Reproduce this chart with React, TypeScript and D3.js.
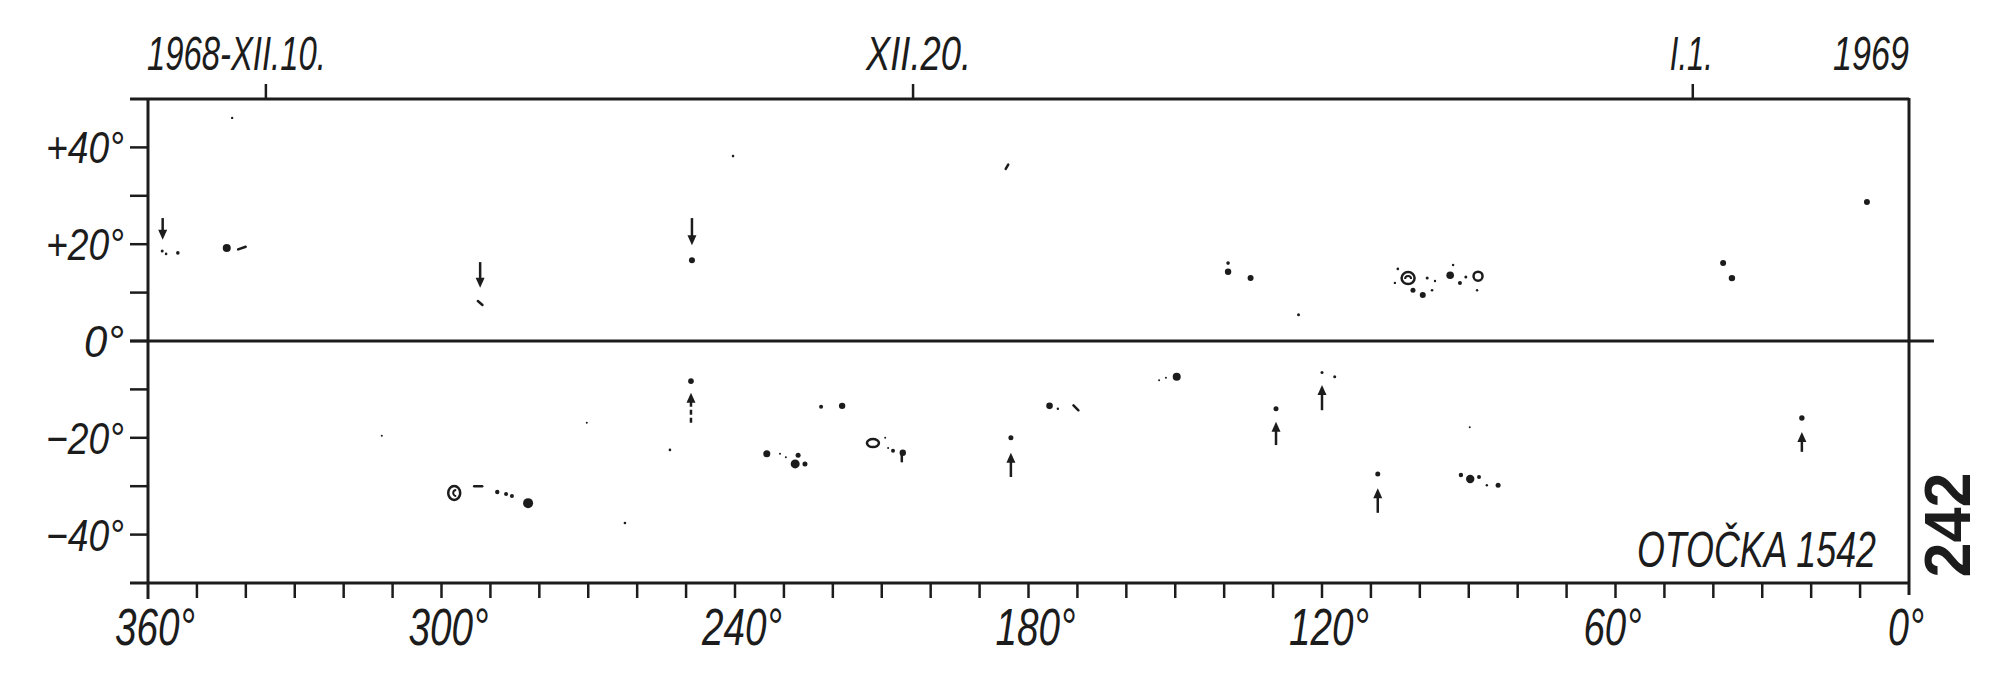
import React from "react";
import * as d3 from "d3";

// ---- data ----
const lonTicks = d3.range(0, 361, 10);
const lonLabels = [360, 300, 240, 180, 120, 60, 0];
const decTicks = [-40, -30, -20, -10, 0, 10, 20, 30, 40];
const decLabels = [
  { v: 40, t: "+40°" },
  { v: 20, t: "+20°" },
  { v: 0, t: "0°" },
  { v: -20, t: "−20°" },
  { v: -40, t: "−40°" },
];
const dateLabels = [
  { lon: 335.9, t: "1968-XII.10.", off: -119, len: 179 },
  { lon: 203.6, t: "XII.20.", off: -47, len: 105 },
  { lon: 44.2, t: "I.1.", off: -23, len: 43 },
];
// filled spots: [longitude, declination, radius px]
const spots: [number, number, number][] = [
  [357.1, 18.6, 1.5], [356.3, 18.0, 1.3], [353.9, 18.2, 1.8],
  [343.9, 19.2, 4], [342.8, 46.1, 1.2],
  [248.8, 16.7, 3], [240.4, 38.2, 1.3],
  [139.2, 16.1, 1.8], [139.2, 14.3, 3.2], [134.6, 13.0, 3], [124.8, 5.4, 1.5],
  [104.5, 14.9, 1.3], [105.1, 12.0, 1.2], [98.5, 13.0, 1.5], [96.9, 12.4, 1.2],
  [101.4, 10.5, 2.5], [99.4, 9.5, 3], [97.5, 10.5, 1.3], [93.8, 13.6, 3.8],
  [93.2, 15.7, 1.2], [91.8, 12.0, 2], [90.6, 13.2, 1.5], [88.3, 10.5, 1.2],
  [38.0, 16.1, 3], [36.2, 13.0, 3.2], [8.6, 28.7, 3],
  [249.0, -8.3, 2.8],
  [288.6, -31.2, 2.2], [286.8, -31.6, 2], [285.6, -32.0, 2], [282.3, -33.5, 5],
  [312.2, -19.6, 1], [270.3, -16.9, 1], [253.3, -22.5, 1.3], [262.5, -37.6, 1.3],
  [233.5, -23.3, 3.5], [230.8, -23.3, 1], [229.6, -24.0, 1], [227.1, -23.6, 2.5],
  [227.7, -25.4, 4.5], [225.7, -25.4, 2.5],
  [222.4, -13.6, 2], [218.1, -13.4, 3.2],
  [209.3, -20.0, 1], [208.7, -22.1, 1], [207.7, -22.7, 2], [205.7, -23.1, 3.2],
  [183.6, -20.0, 2.5],
  [175.7, -13.4, 3.3], [174.0, -14.0, 1.2],
  [153.3, -8.1, 1], [151.9, -7.6, 1], [149.7, -7.4, 4],
  [129.4, -14.0, 2.5], [120.0, -6.5, 1.5], [117.4, -7.4, 1.5],
  [108.6, -27.5, 2.5], [89.8, -17.8, 1],
  [91.6, -27.7, 2.2], [89.7, -28.5, 4.2], [87.9, -28.1, 2], [86.3, -29.8, 1.2], [84.0, -29.8, 2.5],
  [21.9, -15.9, 2.7],
];
// open rings: [lon, dec, rx, ry]
const rings: [number, number, number, number][] = [
  [102.4, 13.0, 6.5, 6],
  [88.1, 13.4, 4.5, 4.5],
  [297.4, -31.4, 6, 7],
  [211.8, -21.1, 6, 4],
];
// short streaks: [lon, dec, angle deg, length px]
const streaks: [number, number, number, number][] = [
  [340.8, 19.2, -20, 8],
  [292.1, 7.85, 40, 6],
  [184.4, 36.0, -60, 5],
  [292.5, -30.0, 0, 8],
  [170.3, -13.8, 45, 7],
  [205.9, -24.2, 90, 6],
];
// arrows: [lon, tip dec, tail dec, dashed]
const downArrows: [number, number, number, boolean][] = [
  [357.0, 20.9, 25.4, false],
  [292.1, 11.0, 16.3, false],
  [248.8, 19.8, 25.4, false],
];
const upArrows: [number, number, number, boolean][] = [
  [249.0, -10.7, -16.9, true],
  [183.6, -23.1, -28.1, false],
  [129.4, -16.7, -21.5, false],
  [120.0, -9.1, -14.3, false],
  [108.6, -30.4, -35.5, false],
  [21.9, -18.8, -22.9, false],
];

const INK = "#1c1c1c";
const FONT = "'Liberation Sans', Arial, sans-serif";

export default function App() {
  const x = d3.scaleLinear().domain([360, 0]).range([148, 1909]);
  const y = d3.scaleLinear().domain([-50, 50]).range([583, 99]);
  const x0 = x(360);
  const x1 = x(0);

  const arrow = (a: [number, number, number, boolean], i: number, dir: number) => {
    const [lon, tip, tail, dashed] = a;
    const cx = x(lon);
    const ty = y(tip);
    const ly = y(tail);
    const head = 10 * dir; // dir=1 means pointing down
    return (
      <g key={i}>
        <line x1={cx} x2={cx} y1={ly} y2={ty - head * 0.5} stroke={INK} strokeWidth={2.5}
          strokeDasharray={dashed ? "5,3" : undefined} />
        <path d={`M${cx - 4.5},${ty - head} L${cx + 4.5},${ty - head} L${cx},${ty} Z`} fill={INK} />
      </g>
    );
  };

  return (
    <svg width={2000} height={687} style={{ position: "absolute", left: 0, top: 0, background: "#fff" }}>
      <rect width={2000} height={687} fill="#fff" />
      {/* frame */}
      <g stroke={INK} strokeWidth={3} fill="none">
        <line x1={130} x2={x1} y1={y(50)} y2={y(50)} />
        <line x1={130} x2={1934} y1={y(0)} y2={y(0)} />
        <line x1={130} x2={x1} y1={y(-50)} y2={y(-50)} />
        <line x1={x0} x2={x0} y1={y(50)} y2={y(-50) + 16} />
        <line x1={x1} x2={x1} y1={y(50) - 1} y2={y(-50) + 12} />
      </g>
      {/* declination ticks */}
      <g stroke={INK} strokeWidth={2.5}>
        {decTicks.map((d) => (
          <line key={d} x1={130} x2={x0} y1={y(d)} y2={y(d)} />
        ))}
      </g>
      {/* longitude ticks */}
      <g stroke={INK} strokeWidth={2.5}>
        {lonTicks.filter((v) => v > 0 && v < 360).map((v) => (
          <line key={v} x1={x(v)} x2={x(v)} y1={y(-50)} y2={y(-50) + 15} />
        ))}
      </g>
      {/* date ticks on top */}
      <g stroke={INK} strokeWidth={2.5}>
        {dateLabels.map((d) => (
          <line key={d.t} x1={x(d.lon)} x2={x(d.lon)} y1={y(50)} y2={y(50) - 15} />
        ))}
      </g>
      {/* labels */}
      <g fill={INK} fontFamily={FONT} fontStyle="italic">
        {decLabels.map((d) => (
          <text key={d.v} x={124} y={y(d.v) + 16} fontSize={44} textAnchor="end"
            textLength={d.t.length * 19 + 2} lengthAdjust="spacingAndGlyphs">{d.t}</text>
        ))}
        {lonLabels.map((v) => {
          const s = `${v}°`;
          const w = (s.length - 1) * 22;
          return (
            <text key={v} x={x(v) - w / 2 - (v < 100 ? 10 : 0)} y={645} fontSize={51}
              textLength={w + 14} lengthAdjust="spacingAndGlyphs">{s}</text>
          );
        })}
        {dateLabels.map((d) => (
          <text key={d.t} x={x(d.lon) + d.off} y={70} fontSize={48}
            textLength={d.len} lengthAdjust="spacingAndGlyphs">{d.t}</text>
        ))}
        <text x={x1} y={70} fontSize={48} textAnchor="end" textLength={76} lengthAdjust="spacingAndGlyphs">1969</text>
        <text x={1876} y={567} fontSize={50} textAnchor="end" textLength={239} lengthAdjust="spacingAndGlyphs">OTOČKA 1542</text>
      </g>
      <text transform="translate(1970,525) rotate(-90)" fontFamily={FONT} fontWeight="bold" fontSize={64}
        textAnchor="middle" fill={INK} textLength={105} lengthAdjust="spacingAndGlyphs">242</text>
      {/* observed objects */}
      <g fill={INK}>
        {spots.map((p, i) => (
          <circle key={i} cx={x(p[0])} cy={y(p[1])} r={p[2]} />
        ))}
      </g>
      <g fill="none" stroke={INK} strokeWidth={2.5}>
        {rings.map((p, i) => (
          <ellipse key={i} cx={x(p[0])} cy={y(p[1])} rx={p[2]} ry={p[3]} />
        ))}
        <path d={`M${x(297.4) + 2},${y(-31.4) - 3} A3,3 0 1,0 ${x(297.4) + 2},${y(-31.4) + 3}`} strokeWidth={2} />
        <path d={`M${x(102.4) - 3},${y(13.0) + 1} A3,3 0 1,1 ${x(102.4) + 3},${y(13.0) + 1}`} strokeWidth={2} />
      </g>
      <g stroke={INK} strokeWidth={2.5} strokeLinecap="round">
        {streaks.map((p, i) => {
          const a = (p[2] * Math.PI) / 180;
          const dx = (Math.cos(a) * p[3]) / 2;
          const dy = (Math.sin(a) * p[3]) / 2;
          return <line key={i} x1={x(p[0]) - dx} x2={x(p[0]) + dx} y1={y(p[1]) - dy} y2={y(p[1]) + dy} />;
        })}
      </g>
      {downArrows.map((a, i) => arrow(a, i, 1))}
      {upArrows.map((a, i) => arrow(a, 100 + i, -1))}
    </svg>
  );
}
